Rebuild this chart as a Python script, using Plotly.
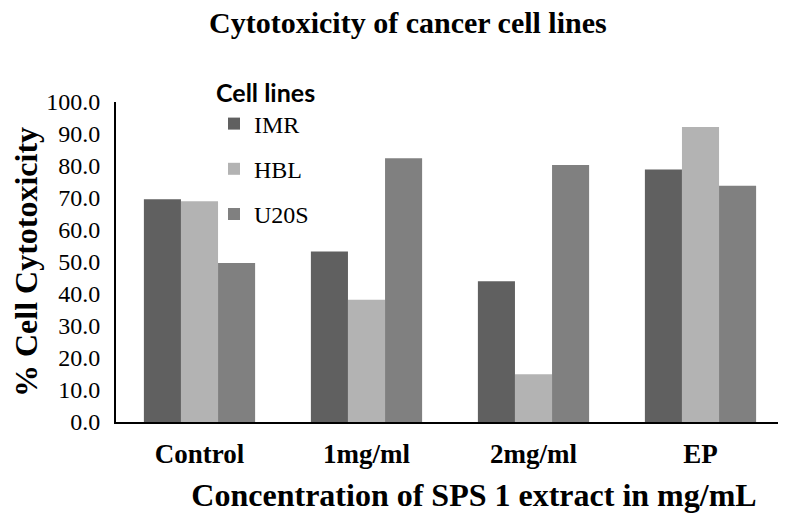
import plotly.graph_objects as go

categories = ["Control", "1mg/ml", "2mg/ml", "EP"]
series_names = ["IMR", "HBL", "U20S"]
imr = [69.6, 53.3, 44.0, 78.9]
hbl = [69.0, 38.2, 14.9, 92.2]
u20s = [49.7, 82.4, 80.3, 73.8]
colors = ["#606060", "#b3b3b3", "#808080"]

serif = "Liberation Serif, Times New Roman, serif"

# page body has an 8px default margin; figure is sized to fit the remaining window
W, H = 778, 505
L, R, T, B = 108, 2, 94, 91
PW, PH = W - L - R, H - T - B

fig = go.Figure()
for i, (name, vals) in enumerate(zip(series_names, [imr, hbl, u20s])):
    fig.add_trace(go.Bar(
        x=categories, y=vals, name=name, legendgroup=name,
        marker=dict(color=colors[i], line=dict(width=0)),
    ))

fig.update_layout(
    width=W, height=H,
    margin=dict(l=L, r=R, t=T, b=B),
    paper_bgcolor="white", plot_bgcolor="white",
    barmode="group", bargap=0.334, bargroupgap=0,
    title=dict(text="<b>Cytotoxicity of cancer cell lines</b>",
               font=dict(family=serif, size=30, color="black"),
               x=0.514, xanchor="center", y=1.0, yanchor="top",
               pad=dict(t=4)),
    legend=dict(
        title=dict(text="<b>Cell lines</b>", side="top",
                   font=dict(family="Lato, Open Sans, sans-serif", size=25, color="black")),
        font=dict(family=serif, size=24, color="black"),
        x=(206 - L) / PW, xanchor="left",
        y=(H - B - 61) / PH, yanchor="top",
        bgcolor="rgba(0,0,0,0)",
        traceorder="grouped", tracegroupgap=11,
    ),
    showlegend=True,
)

fig.update_xaxes(
    automargin=False,
    showline=True, linecolor="black", linewidth=2,
    ticks="outside", tickcolor="rgba(0,0,0,0)", ticklen=7, showgrid=False,
    tickfont=dict(family=serif, size=27, color="black"),
    tickprefix="<b>", ticksuffix="</b>",
    title=dict(text="&nbsp;&nbsp;&nbsp;&nbsp;&nbsp;&nbsp;<b>Concentration of SPS 1 extract in mg/mL</b>",
               font=dict(family=serif, size=32, color="black"), standoff=18),
)
fig.update_yaxes(
    automargin=True,
    range=[0, 100], dtick=10, tickformat=".1f",
    showline=True, linecolor="black", linewidth=2,
    ticks="outside", tickcolor="rgba(0,0,0,0)", ticklen=9,
    showgrid=False, zeroline=False,
    tickfont=dict(family=serif, size=24, color="black"),
    title=dict(text="<b>% Cell Cytotoxicity</b>",
               font=dict(family=serif, size=32, color="black"), standoff=11),
)

fig.write_html("out.html")
